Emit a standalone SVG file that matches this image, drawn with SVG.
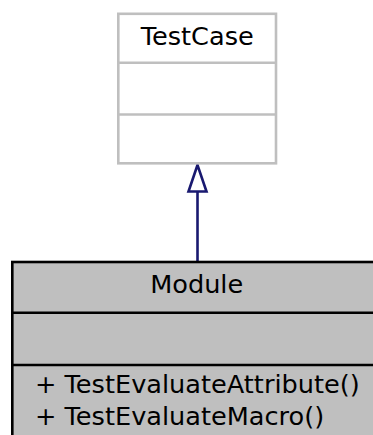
<svg xmlns="http://www.w3.org/2000/svg" width="373" height="435" viewBox="0 0 373 435">
<style>
text{font-family:"DejaVu Sans",sans-serif;font-size:25.6px;fill:#000}
.base{fill:#fff;stroke:#bfbfbf;stroke-width:2.6}
.derived{fill:#bfbfbf;stroke:#000;stroke-width:2.6}
.edge{stroke:#191970;stroke-width:2.6;fill:none}
.head{stroke:#191970;stroke-width:2.6;fill:#fff}
</style>
<rect width="373" height="435" fill="#fff"/>
<g id="connectors">
<line class="edge" x1="197.5" y1="192" x2="197.5" y2="262"/>
<polygon class="head" points="197.5,165 188.5,191.5 206.5,191.5"/>
</g>
<g id="TestCase">
<rect class="base" x="118.3" y="13.8" width="157.7" height="149.5"/>
<line class="base" x1="118.3" y1="62.8" x2="276" y2="62.8"/>
<line class="base" x1="118.3" y1="114.5" x2="276" y2="114.5"/>
<text x="197.2" y="45" text-anchor="middle">TestCase</text>
</g>
<g id="Module">
<rect class="derived" x="12.3" y="262" width="370" height="190"/>
<line class="derived" x1="12.3" y1="312.7" x2="382.3" y2="312.7"/>
<line class="derived" x1="12.3" y1="365" x2="382.3" y2="365"/>
<text x="196.7" y="293" text-anchor="middle">Module</text>
<text x="35" y="393">+ TestEvaluateAttribute()</text>
<text x="35" y="425">+ TestEvaluateMacro()</text>
</g>
</svg>
